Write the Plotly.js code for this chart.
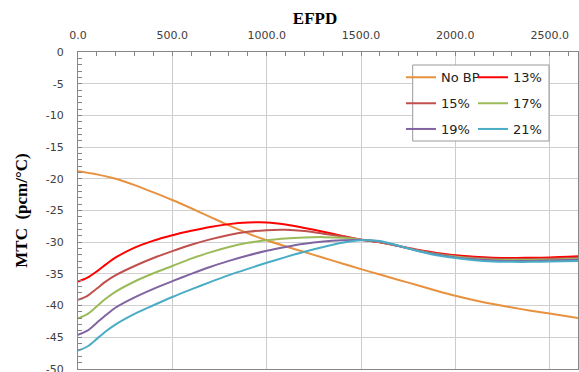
<!DOCTYPE html>
<html>
<head>
<meta charset="utf-8">
<script src="https://cdn.plot.ly/plotly-3.0.1.min.js"></script>
<style>html,body{margin:0;padding:0;background:#fff;}#chart{width:579px;height:372px;}</style>
</head>
<body>
<div id="chart"></div>
<script>
// EFPD grid for the no-BP case
var xNoBP = [0,100,200,300,400,500,600,700,800,900,1000,1100,1200,1300,1400,1500,1600,1700,1800,1900,2000,2100,2200,2300,2400,2500,2650];
var yNoBP = [-18.8,-19.3,-20.0,-21.0,-22.15,-23.35,-24.65,-26.0,-27.35,-28.6,-29.7,-30.65,-31.55,-32.45,-33.35,-34.25,-35.1,-35.95,-36.8,-37.65,-38.45,-39.15,-39.75,-40.3,-40.8,-41.25,-41.95];

// EFPD grid for the BP cases
var xBP = [0,50,100,150,200,300,400,500,600,700,800,900,1000,1100,1200,1300,1400,1500,1600,1700,1800,1900,2000,2100,2200,2300,2400,2500,2650];
var y13 = [-36.2,-35.6,-34.6,-33.45,-32.4,-30.85,-29.75,-28.9,-28.2,-27.6,-27.15,-26.9,-26.88,-27.2,-27.75,-28.35,-29.0,-29.6,-30.0,-30.6,-31.2,-31.7,-32.05,-32.3,-32.45,-32.5,-32.45,-32.4,-32.2];
var y15 = [-39.1,-38.45,-37.3,-36.15,-35.2,-33.75,-32.5,-31.4,-30.4,-29.55,-28.85,-28.35,-28.1,-28.05,-28.25,-28.65,-29.1,-29.6,-30.0,-30.62,-31.25,-31.8,-32.2,-32.45,-32.6,-32.65,-32.65,-32.6,-32.45];
var y17 = [-42.0,-41.35,-40.1,-38.85,-37.8,-36.2,-34.9,-33.75,-32.6,-31.6,-30.75,-30.1,-29.7,-29.4,-29.25,-29.2,-29.3,-29.6,-29.95,-30.62,-31.3,-31.9,-32.3,-32.6,-32.75,-32.8,-32.8,-32.75,-32.6];
var y19 = [-44.6,-43.95,-42.7,-41.45,-40.3,-38.7,-37.35,-36.15,-35.0,-33.9,-32.95,-32.1,-31.35,-30.75,-30.25,-29.9,-29.7,-29.6,-29.9,-30.6,-31.35,-31.95,-32.4,-32.7,-32.9,-32.95,-32.95,-32.9,-32.75];
var y21 = [-47.1,-46.45,-45.25,-44.0,-42.95,-41.3,-39.95,-38.65,-37.45,-36.3,-35.2,-34.2,-33.25,-32.35,-31.5,-30.75,-30.1,-29.7,-29.8,-30.55,-31.4,-32.05,-32.5,-32.85,-33.05,-33.1,-33.1,-33.05,-32.95];

var names = ['No BP','13%','15%','17%','19%','21%'];
var colors = ['#E8913F','#FF0000','#C0504D','#9BBB59','#8064A2','#4BACC6'];
var xs = [xNoBP,xBP,xBP,xBP,xBP,xBP];
var ys = [yNoBP,y13,y15,y17,y19,y21];
var legendIds = ['legend','legend2','legend3','legend4','legend5','legend6'];

// y tick labels (with plain hyphen minus as in the source)
var yTickVals = [0,-5,-10,-15,-20,-25,-30,-35,-40,-45,-50];
var yTickText = ['0','-5','-10','-15','-20','-25','-30','-35','-40','-45','-50'];

var traces = [];
for (var i = 0; i < names.length; i++) {
  traces.push({
    x: xs[i], y: ys[i], name: names[i], type: 'scatter', mode: 'lines',
    line: {color: colors[i], width: 2, shape: 'spline', smoothing: 0.8},
    legend: legendIds[i], hoverinfo: 'skip'
  });
}

var L = 78, W = 500, T = 52, H = 317;
function px2x(p){ return (p - L) / W; }
function py2y(p){ return (T + H - p) / H; }
var colText = [441, 513];
var rowY = [77.3, 103.3, 129];

var layout = {
  width: 579, height: 372,
  margin: {l: L, r: 579 - L - W, t: T, b: 372 - T - H, pad: 0},
  paper_bgcolor: '#fff', plot_bgcolor: '#fff',
  showlegend: true,
  title: {text: '<b>EFPD</b>', x: 315/579, xanchor: 'center', xref: 'container', y: 1 - 18/372, yanchor: 'middle', yref: 'container',
          font: {family: 'Liberation Serif', size: 17, color: '#000'}},
  font: {family: 'DejaVu Sans', size: 11, color: '#404040'},
  xaxis: {
    side: 'top', range: [0, 2650], dtick: 500, tick0: 0, tickformat: '.1f',
    showgrid: true, gridcolor: '#cccccc', gridwidth: 1,
    showline: true, linecolor: '#868686', linewidth: 1, mirror: true,
    ticks: 'inside', ticklen: 4, tickcolor: '#868686',
    minor: {dtick: 100, ticks: 'inside', ticklen: 4, tickcolor: '#868686', showgrid: false},
    ticklabelstandoff: 8, zeroline: false, fixedrange: true, ticklabeloverflow: 'allow',
    tickfont: {family: 'DejaVu Sans', size: 11, color: '#404040'}
  },
  yaxis: {
    range: [-50, 0], tickmode: 'array', tickvals: yTickVals, ticktext: yTickText,
    showgrid: true, gridcolor: '#d0d0d0', gridwidth: 1,
    showline: true, linecolor: '#868686', linewidth: 1, mirror: true,
    ticks: 'inside', ticklen: 4, tickcolor: '#868686',
    minor: {dtick: 1, tick0: 0, ticks: 'inside', ticklen: 4, tickcolor: '#868686', showgrid: false},
    ticklabelstandoff: 11, zeroline: false, fixedrange: true, ticklabeloverflow: 'allow',
    tickfont: {family: 'DejaVu Sans', size: 11, color: '#404040'},
    title: {text: '<b>MTC  (pcm/°C)</b>', font: {family: 'Liberation Serif', size: 17, color: '#000'}, standoff: 13}
  },
  shapes: [{
    type: 'rect', xref: 'paper', yref: 'paper', layer: 'above',
    x0: px2x(412.7), x1: px2x(549), y0: py2y(141), y1: py2y(65),
    line: {color: '#999999', width: 1}, fillcolor: '#ffffff'
  }]
};

for (var k = 0; k < 6; k++) {
  var col = k % 2, row = Math.floor(k / 2);
  var id = legendIds[k];
  layout[id] = {
    x: px2x(colText[col] - 40), xanchor: 'left', xref: 'paper',
    y: py2y(rowY[row]), yanchor: 'middle', yref: 'paper',
    bgcolor: 'rgba(0,0,0,0)', borderwidth: 0, orientation: 'v',
    font: {family: 'DejaVu Sans', size: 13, color: '#222'},
    itemwidth: 30, itemclick: false, itemdoubleclick: false
  };
}

Plotly.newPlot('chart', traces, layout, {displayModeBar: false, staticPlot: true});
</script>
</body>
</html>
